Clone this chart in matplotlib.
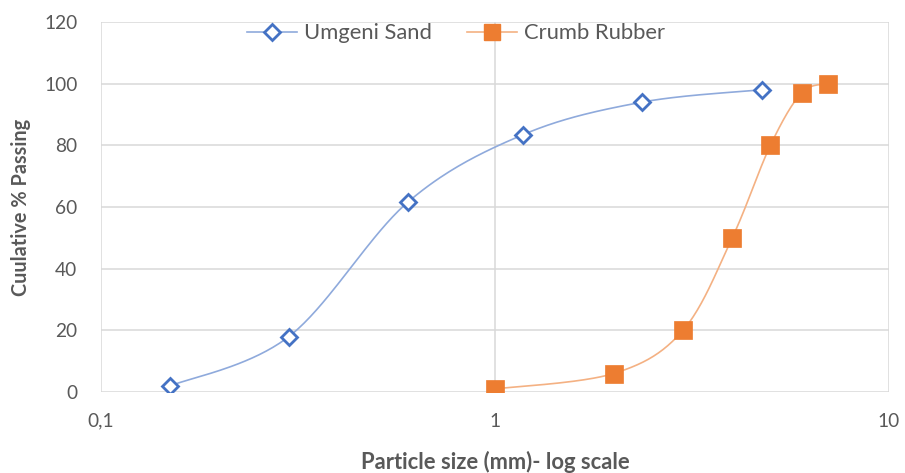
import numpy as np
import matplotlib
matplotlib.use("Agg")
import matplotlib.pyplot as plt
from matplotlib.ticker import FixedLocator, FixedFormatter, NullLocator

plt.rcParams['font.family'] = ['Lato', 'DejaVu Sans']

sand_x = [0.15, 0.3, 0.6, 1.18, 2.36, 4.75]
sand_y = [2, 18, 61.5, 83.5, 94, 98]
rubber_x = [1, 2, 3, 4, 5, 6, 7]
rubber_y = [1, 6, 20, 50, 80, 97, 100]
y_ticks = [0, 20, 40, 60, 80, 100, 120]
x_ticks = [0.1, 1, 10]
x_tick_labels = ["0,1", "1", "10"]

TXT = "#595959"
fig = plt.figure(figsize=(9.05, 4.73), dpi=100)
ax = fig.add_axes([101/905, 1-392/473, (889-101)/905, (392-22)/473])
ax.set_xscale('log')
ax.set_xlim(0.1, 10)
ax.set_ylim(0, 120)


def smooth(xs, ys, n=40):
    pts = ax.transData.transform(np.column_stack([xs, ys]))
    out = []
    m = len(pts)
    for i in range(m - 1):
        p0 = pts[i - 1] if i > 0 else pts[i]
        p1 = pts[i]
        p2 = pts[i + 1]
        p3 = pts[i + 2] if i + 2 < m else pts[i + 1]
        c1 = p1 + (p2 - p0) / 6
        c2 = p2 - (p3 - p1) / 6
        t = np.linspace(0, 1, n)[:, None]
        seg = ((1 - t) ** 3) * p1 + 3 * ((1 - t) ** 2) * t * c1 + 3 * (1 - t) * t ** 2 * c2 + t ** 3 * p2
        out.append(seg if i == 0 else seg[1:])
    seg = np.vstack(out)
    data = ax.transData.inverted().transform(seg)
    return data[:, 0], data[:, 1]

sx, sy = smooth(sand_x, sand_y)
rx, ry = smooth(rubber_x, rubber_y)
ax.plot(sx, sy, color="#8FAADC", lw=1.2, zorder=3)
ax.plot(rx, ry, color="#F4B183", lw=1.2, zorder=3)
ax.plot(sand_x, sand_y, ls='none', marker='D', ms=8.5, mfc='white', mec='#4472C4', mew=2, zorder=4)
ax.plot(rubber_x, rubber_y, ls='none', marker='s', ms=13, mfc='#ED7D31', mec='#ED7D31', mew=0.5, zorder=4)

# legend proxies
ax.plot([], [], color="#8FAADC", lw=1.2, marker='D', ms=8, mfc='white', mec='#4472C4', mew=2, label='Umgeni Sand')
ax.plot([], [], color="#F4B183", lw=1.2, marker='s', ms=12, mfc='#ED7D31', mec='#ED7D31', label='Crumb Rubber')
h, l = ax.get_legend_handles_labels()
leg = ax.legend(h[-2:], l[-2:], loc='upper center', bbox_to_anchor=(0.45, 1.05), ncol=2, frameon=False,
                fontsize=15.8, handlelength=2.3, columnspacing=1.6, handletextpad=0.3)
for t in leg.get_texts():
    t.set_color(TXT)

ax.xaxis.set_major_locator(FixedLocator(x_ticks))
ax.xaxis.set_major_formatter(FixedFormatter(x_tick_labels))
ax.xaxis.set_minor_locator(NullLocator())
ax.set_yticks(y_ticks)
ax.grid(True, which='major', color='#D9D9D9', lw=1.1, zorder=0)
ax.set_axisbelow(True)
for s in ax.spines.values():
    s.set_visible(False)
ax.tick_params(length=0, labelsize=13.8, labelcolor=TXT)
ax.tick_params(axis='y', pad=17)
ax.tick_params(axis='x', pad=15)
ax.set_xlabel("Particle size (mm)- log scale", fontsize=15.8, fontweight='bold', color=TXT, labelpad=15)
ax.set_ylabel("Cuulative % Passing", fontsize=14.3, fontweight='bold', color=TXT, labelpad=9.5)

fig.savefig("out.png", dpi=100)
